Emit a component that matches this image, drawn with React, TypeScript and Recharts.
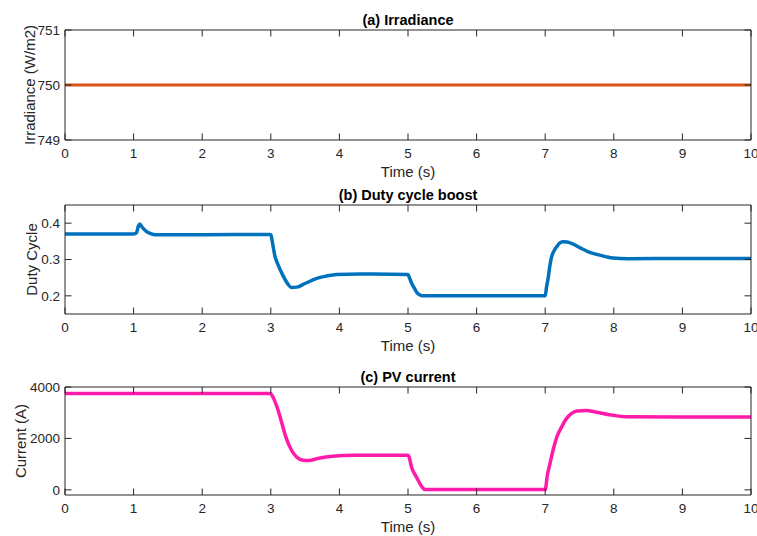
import React from 'react';
import { LineChart, Line, XAxis, YAxis } from 'recharts';

const xTicks = [0, 1, 2, 3, 4, 5, 6, 7, 8, 9, 10];

const irrTime = [0, 10];
const irrValue = [750, 750];
const irrTicks = [749, 750, 751];

const dutyTime = [0, 1.0, 1.04, 1.07, 1.09, 1.12, 1.18, 1.25, 1.32, 2.0, 2.99, 3.0, 3.03, 3.06, 3.1, 3.18, 3.24, 3.3, 3.38, 3.5, 3.67, 3.8, 3.96, 4.3, 5.0, 5.02, 5.05, 5.09, 5.13, 5.17, 5.2, 6.0, 7.0, 7.02, 7.04, 7.07, 7.09, 7.13, 7.17, 7.21, 7.26, 7.32, 7.4, 7.51, 7.62, 7.75, 7.88, 7.99, 8.2, 9.0, 10];
const dutyValue = [0.37, 0.37, 0.373, 0.392, 0.398, 0.39, 0.378, 0.371, 0.368, 0.368, 0.369, 0.368, 0.34, 0.309, 0.288, 0.255, 0.235, 0.223, 0.224, 0.234, 0.248, 0.254, 0.259, 0.26, 0.259, 0.25, 0.236, 0.222, 0.209, 0.203, 0.2, 0.2, 0.2, 0.225, 0.245, 0.285, 0.305, 0.324, 0.336, 0.345, 0.349, 0.348, 0.343, 0.332, 0.322, 0.314, 0.308, 0.304, 0.302, 0.303, 0.303];
const dutyTicks = [0.2, 0.3, 0.4];

const curTime = [0, 2.99, 3.0, 3.05, 3.1, 3.15, 3.22, 3.3, 3.38, 3.47, 3.55, 3.7, 3.9, 4.2, 5.0, 5.02, 5.05, 5.12, 5.2, 5.25, 6.0, 7.0, 7.03, 7.07, 7.12, 7.17, 7.24, 7.31, 7.38, 7.46, 7.6, 7.75, 7.99, 8.19, 9.0, 10];
const curValue = [3750, 3750, 3740, 3500, 3150, 2700, 2050, 1550, 1270, 1150, 1140, 1230, 1310, 1350, 1350, 1250, 900, 515, 130, 10, 10, 10, 550, 1030, 1600, 2060, 2450, 2770, 2960, 3070, 3090, 3020, 2900, 2840, 2830, 2830];
const curTicks = [0, 2000, 4000];

const build = (t: number[], v: number[]) => t.map((x, i) => ({ t: x, v: v[i] }));

const irrData = build(irrTime, irrValue);
const dutyData = build(dutyTime, dutyValue);
const curData = build(curTime, curValue);

const FONT = 'Liberation Sans, Arial, Helvetica, sans-serif';
const AX = '#262626';
const TICK_LEN = 6.5;
const TICK_FS = 13.5;

const BottomTick = (p: any) => (
  <g>
    <line x1={p.x} x2={p.x} y1={p.y} y2={p.y - TICK_LEN} stroke={AX} strokeWidth={1} />
    <text x={p.x} y={p.y + 18} textAnchor="middle" fontSize={TICK_FS} fontFamily={FONT} fill={AX}>{p.payload.value}</text>
  </g>
);
const LeftTick = (p: any) => (
  <g>
    <line x1={p.x} x2={p.x + TICK_LEN} y1={p.y} y2={p.y} stroke={AX} strokeWidth={1} />
    <text x={p.x - 5} y={p.y + 4.8} textAnchor="end" fontSize={TICK_FS} fontFamily={FONT} fill={AX}>{p.payload.value}</text>
  </g>
);
const TopTick = (p: any) => (
  <line x1={p.x} x2={p.x} y1={p.y} y2={p.y + TICK_LEN} stroke={AX} strokeWidth={1} />
);
const RightTick = (p: any) => (
  <line x1={p.x} x2={p.x - TICK_LEN} y1={p.y} y2={p.y} stroke={AX} strokeWidth={1} />
);

type PanelProps = {
  top: number;
  height: number;
  marginTop: number;
  xHeight: number;
  data: { t: number; v: number }[];
  domain: [number, number];
  yTicks: number[];
  color: string;
  title: string;
  ylabel: string;
  ylabelDx: number;
  width?: number;
};

const Panel = ({ top, height, marginTop, xHeight, data, domain, yTicks, color, title, ylabel, ylabelDx, width = 3.5 }: PanelProps) => (
  <div style={{ position: 'absolute', left: 0, top, width: 757, height }}>
    <div style={{ position: 'absolute', left: 0, top: 0 }}>
      <LineChart width={757} height={height} data={data} margin={{ top: marginTop, right: 6, bottom: 0, left: 0 }}>
        <XAxis
          dataKey="t"
          type="number"
          domain={[0, 10]}
          ticks={xTicks}
          orientation="bottom"
          height={xHeight}
          tickSize={0}
          tickMargin={0}
          axisLine={{ stroke: AX }}
          tickLine={false}
          tick={BottomTick}
          interval={0}
          label={{ value: 'Time (s)', position: 'insideTop', offset: 26.5, fontSize: 15, style: { fontSize: 15, fill: AX, fontFamily: FONT } }}
        />
        <YAxis
          type="number"
          domain={domain}
          ticks={yTicks}
          width={65}
          tickSize={0}
          tickMargin={0}
          axisLine={{ stroke: AX }}
          tickLine={false}
          tick={LeftTick}
          interval={0}
          allowDataOverflow
          label={{ value: ylabel, angle: -90, position: 'center', dx: ylabelDx, fontSize: 15, style: { fontSize: 15, fill: AX, fontFamily: FONT } }}
        />
        <Line
          dataKey="v"
          type="monotone"
          stroke={color}
          strokeWidth={width}
          dot={false}
          isAnimationActive={false}
        />
      </LineChart>
    </div>
    <div style={{ position: 'absolute', left: 0, top: 0, pointerEvents: 'none' }}>
      <LineChart width={771} height={height} data={data} margin={{ top: marginTop - 20, right: 0, bottom: xHeight, left: 65 }}>
        <XAxis
          dataKey="t"
          type="number"
          domain={[0, 10]}
          ticks={xTicks}
          orientation="top"
          height={20}
          tickSize={0}
          tickMargin={0}
          axisLine={{ stroke: AX }}
          tickLine={false}
          tick={TopTick}
          interval={0}
          label={{ value: title, position: 'insideBottom', offset: 5, fontSize: 14.5, style: { fontSize: 14.5, fontWeight: 'bold', fill: '#000', fontFamily: FONT } }}
        />
        <YAxis
          type="number"
          orientation="right"
          domain={domain}
          ticks={yTicks}
          width={20}
          tickSize={0}
          tickMargin={0}
          axisLine={{ stroke: AX }}
          tickLine={false}
          tick={RightTick}
          interval={0}
          allowDataOverflow
        />
        <Line
          dataKey="v"
          type="monotone"
          stroke="none"
          strokeWidth={0}
          dot={false}
          activeDot={false}
          legendType="none"
          isAnimationActive={false}
        />
      </LineChart>
    </div>
  </div>
);

export default function App() {
  return (
    <div style={{ position: 'absolute', left: 0, top: 0, width: 757, height: 536, background: '#fff', overflow: 'hidden' }}>
      <Panel top={0} height={182} marginTop={30} xHeight={42} data={irrData} domain={[749, 751]} yTicks={irrTicks} color="#D95319" title="(a) Irradiance" ylabel="Irradiance (W/m2)" ylabelDx={-3} width={3} />
      <Panel top={182} height={178} marginTop={23} xHeight={46} data={dutyData} domain={[0.15, 0.45]} yTicks={dutyTicks} color="#0072BD" title="(b) Duty cycle boost" ylabel="Duty Cycle" ylabelDx={-0.5} />
      <Panel top={360} height={176} marginTop={27} xHeight={41} data={curData} domain={[-200, 4000]} yTicks={curTicks} color="#FF1AAA" title="(c) PV current" ylabel="Current (A)" ylabelDx={-11.5} />
    </div>
  );
}
